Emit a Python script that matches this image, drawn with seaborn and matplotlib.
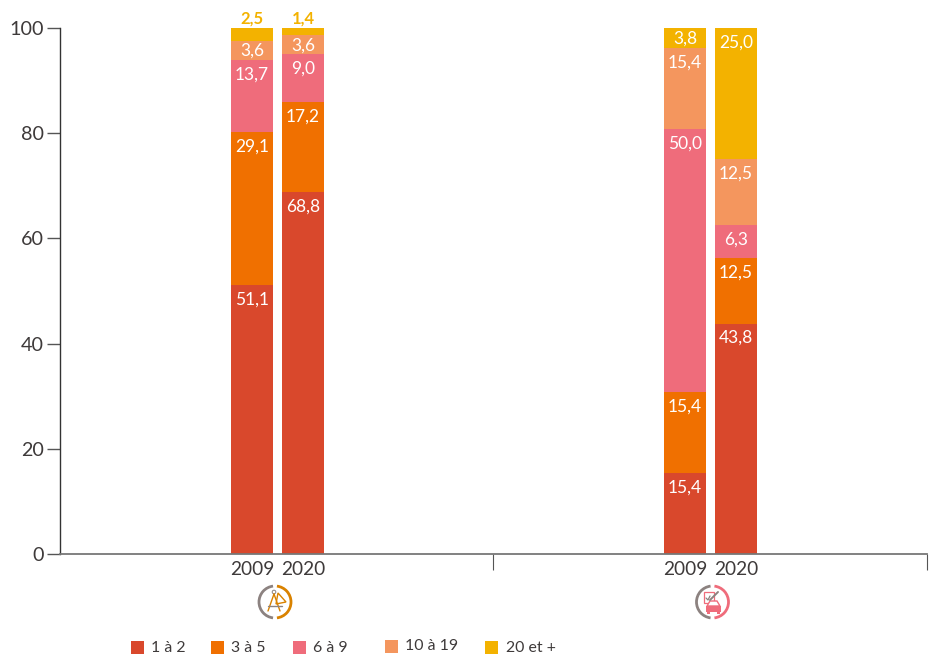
import numpy as np
import pandas as pd
import matplotlib.pyplot as plt
from matplotlib.patches import Arc, Circle, Polygon, Rectangle
import seaborn as sns

# Data
years = ['2009', '2020', '2009', '2020']
groups = [0, 0, 1, 1]
tranches = ['1 à 2', '3 à 5', '6 à 9', '10 à 19', '20 et +']
couleurs = ['#D9482C', '#F07000', '#EF6C7B', '#F4965E', '#F3B200']
v_1a2 = [51.1, 68.8, 15.4, 43.8]
v_3a5 = [29.1, 17.2, 15.4, 12.5]
v_6a9 = [13.7, 9.0, 50.0, 6.3]
v_10a19 = [3.6, 3.6, 15.4, 12.5]
v_20 = [2.5, 1.4, 3.8, 25.0]

FONT = 'Lato'
GRIS = '#3E3A3A'
W, H = 942, 656

sns.set_theme(style='white')
plt.rcParams['font.family'] = [FONT, 'DejaVu Sans']

valeurs = np.array([v_1a2, v_3a5, v_6a9, v_10a19, v_20])
cumul = np.minimum(valeurs.cumsum(axis=0), 100)
xpos = np.array(groups) + np.array([-1, 1, -1, 1]) * 25.5 / 433

fig = plt.figure(figsize=(W / 100, H / 100), dpi=100)
ax = fig.add_axes([60 / W, 1 - 554 / H, 867 / W, 526 / H])

# stacked bars: biggest cumulative first, the lower levels painted on top
for i in range(len(tranches) - 1, -1, -1):
    df = pd.DataFrame({'x': xpos, 'y': cumul[i]})
    sns.barplot(data=df, x='x', y='y', native_scale=True, color=couleurs[i],
                saturation=1, width=42 / 51, errorbar=None, ax=ax, zorder=2, linewidth=0)

ax.set_xlim(-217.5 / 433, 1 + 216.5 / 433)
ax.set_ylim(0, 100)
ax.set_xlabel('')
ax.set_ylabel('')

ax.set_yticks([0, 20, 40, 60, 80, 100])
ax.tick_params(axis='y', length=9.5, width=1, color='#555555', labelsize=14.2,
               labelcolor=GRIS, pad=2, left=True)
ax.set_xticks([215.5 / 433, 1 + 216 / 433])
ax.set_xticklabels([])
ax.tick_params(axis='x', which='major', length=11.5, width=0.8, color='#555555', bottom=True)
ax.set_xticks(xpos, years, minor=True)
ax.tick_params(axis='x', which='minor', length=0, labelsize=13.8, labelcolor=GRIS, pad=5)

for s in ['top', 'right']:
    ax.spines[s].set_visible(False)
ax.spines['left'].set_color('#333333')
ax.spines['left'].set_linewidth(1)
ax.spines['bottom'].set_color('#777777')
ax.spines['bottom'].set_linewidth(1.3)
ax.spines['bottom'].set_zorder(5)

# value labels, near the top of each segment
for i in range(len(tranches)):
    for j in range(len(years)):
        val = valeurs[i, j]
        txt = f'{val:.1f}'.replace('.', ',')
        if val < 3:
            ax.annotate(txt, (xpos[j], 100), xytext=(0, 7), textcoords='offset points',
                        ha='center', va='center', fontsize=12, fontweight='bold',
                        color=couleurs[4], annotation_clip=False)
        else:
            seg_px = val * 526 / 100
            off = -min(14.5, seg_px / 2 + 0.5) * 0.72
            ax.annotate(txt, (xpos[j], cumul[i, j]), xytext=(0, off), textcoords='offset points',
                        ha='center', va='center', fontsize=12.5, color='white', zorder=6)

# overlay in pixels for the legend and the pictograms
ov = fig.add_axes([0, 0, 1, 1], facecolor='none')
ov.set_xlim(0, W)
ov.set_ylim(H, 0)
ov.axis('off')

leg_x = [131, 211, 293, 385, 485]
leg_tx = [151, 231, 313, 405, 506]
leg_y = [647, 647, 647, 646, 647]
for x0, tx, y0, lab, c in zip(leg_x, leg_tx, leg_y, tranches, couleurs):
    ov.add_patch(Rectangle((x0, y0 - 6.5), 13, 13, color=c, lw=0))
    ov.text(tx, y0 + 0.5, lab, fontsize=11.4, color=GRIS, va='center', ha='left')


def anneau(cx, cy, couleur):
    ov.add_patch(Arc((cx, cy), 32, 32, theta1=97, theta2=263, color='#8C8280', lw=2))
    ov.add_patch(Arc((cx, cy), 32, 32, theta1=-83, theta2=83, color=couleur, lw=2))


# compas et équerre
anneau(275, 602, '#D98200')
ov.plot([274, 268], [594, 611], color='#D98200', lw=1)
ov.plot([274, 280], [594, 611], color='#D98200', lw=1)
ov.plot([268, 282], [606, 606], color='#8C8280', lw=1)
ov.add_patch(Circle((274, 592), 1.8, fc='white', ec='#8C8280', lw=0.7))
ov.add_patch(Polygon([[278, 593], [286, 602], [276, 604]], fc='none', ec='#D98200', lw=1))

# voiture et formulaire
anneau(712.5, 602, '#EF6C7B')
ov.add_patch(Rectangle((704, 592), 10, 11, fc='white', ec='#EF6C7B', lw=0.9))
ov.plot([706, 708, 710], [598, 600, 596], color='#8C8280', lw=0.9)
ov.plot([710, 718], [600, 592], color='#8C8280', lw=1.4)
ov.add_patch(Polygon([[707, 606], [710, 601], [717, 601], [720, 606]], fc='white', ec='#EF6C7B', lw=1))
ov.add_patch(Rectangle((706, 606), 15, 6, color='#EF6C7B', lw=0))
ov.add_patch(Rectangle((707, 612), 3, 2, color='#EF6C7B', lw=0))
ov.add_patch(Rectangle((717, 612), 3, 2, color='#EF6C7B', lw=0))

fig.savefig('out.png', dpi=100)
